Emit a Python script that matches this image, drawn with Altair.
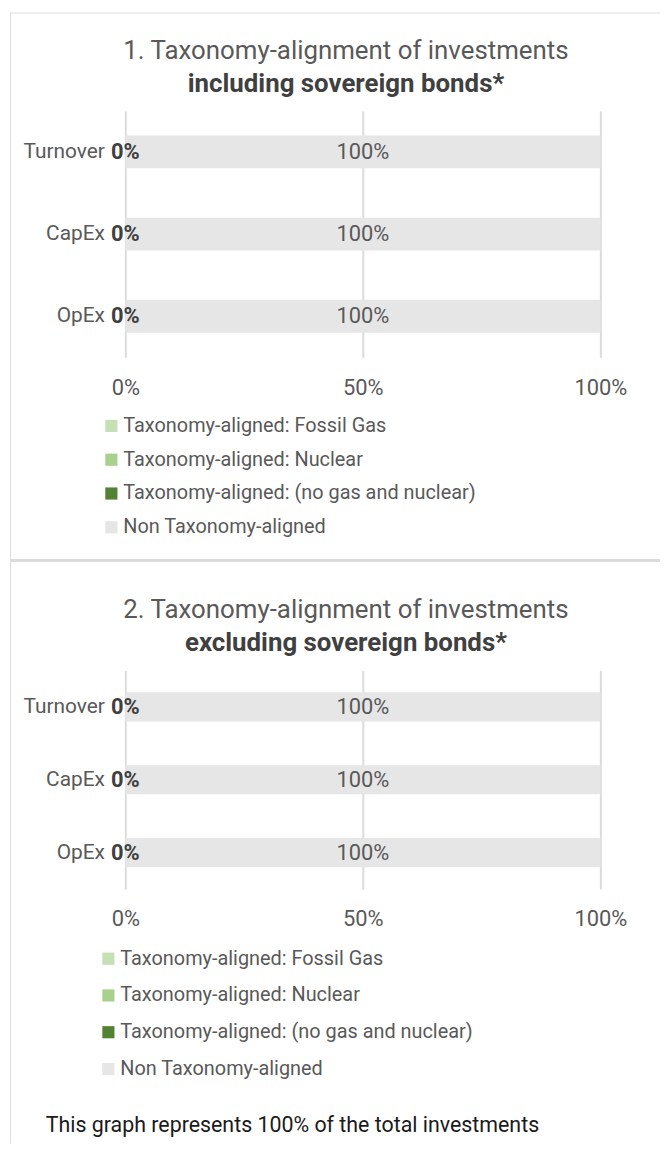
import altair as alt
import pandas as pd

# ---------------- data ----------------
rows = ["Turnover", "CapEx", "OpEx"]
series = [
    "Taxonomy-aligned: Fossil Gas",
    "Taxonomy-aligned: Nuclear",
    "Taxonomy-aligned: (no gas and nuclear)",
    "Non Taxonomy-aligned",
]
palette = ["#c5e0b4", "#a9d18e", "#548235", "#e6e6e6"]

incl_fossil_gas = [0, 0, 0]
incl_nuclear = [0, 0, 0]
incl_aligned_other = [0, 0, 0]
incl_non_aligned = [100, 100, 100]

excl_fossil_gas = [0, 0, 0]
excl_nuclear = [0, 0, 0]
excl_aligned_other = [0, 0, 0]
excl_non_aligned = [100, 100, 100]

x_ticks = [0, 50, 100]
title1 = ["1. Taxonomy-alignment of investments", "including sovereign bonds*"]
title2 = ["2. Taxonomy-alignment of investments", "excluding sovereign bonds*"]
footer = ["This graph represents 100% of the total investments"]

FONT = "Roboto"
GREY = "#595959"
DARK = "#404040"
W = 478


def tables(parts):
    seg, lab = [], []
    for i, r in enumerate(rows):
        start = 0
        for s, vals in zip(series, parts):
            v = vals[i]
            seg.append(dict(row=r, series=s, start=start, end=start + v))
            start += v
        aligned = sum(p[i] for p in parts[:3])
        non = parts[3][i]
        lab.append(dict(row=r, kind="aligned", mid=aligned / 2, text=f"{aligned:g}%"))
        lab.append(dict(row=r, kind="non", mid=aligned + non / 2, text=f"{non:g}%"))
    return pd.DataFrame(seg), pd.DataFrame(lab)


def panel(parts, title, height, legend_x, legend_y, row_pad, title_y, extra=()):
    seg, lab = tables(parts)
    y_axis = alt.Axis(domain=False, ticks=False, tickSize=0, labelPadding=21,
                      labelFont=FONT, labelFontSize=21, labelColor=GREY, grid=False)
    x_axis = alt.Axis(values=x_ticks, labelExpr="datum.value + '%'", domain=False,
                      ticks=False, tickSize=0, grid=True, gridColor="#dcdcdc",
                      gridWidth=2, labelPadding=20, labelFlush=False,
                      labelFont=FONT, labelFontSize=22, labelColor=GREY)
    bars = alt.Chart(seg).mark_bar().encode(
        y=alt.Y("row:N", sort=rows, title=None,
                scale=alt.Scale(paddingInner=0.6, paddingOuter=0.3), axis=y_axis),
        x=alt.X("start:Q", title=None, scale=alt.Scale(domain=[0, 100], nice=False),
                axis=x_axis),
        x2="end:Q",
        color=alt.Color(
            "series:N",
            scale=alt.Scale(domain=series, range=palette),
            legend=alt.Legend(
                title=None, orient="none", legendX=legend_x, legendY=legend_y,
                symbolType="square", symbolSize=150, symbolStrokeWidth=0,
                labelFont=FONT, labelFontSize=20, labelColor=GREY, labelOffset=2,
                labelLimit=600, rowPadding=row_pad, padding=0, direction="vertical",
            ),
        ),
    )
    t_aligned = alt.Chart(lab).transform_filter("datum.kind == 'aligned'").mark_text(
        font=FONT, fontSize=22, fontWeight="bold", color=DARK, align="center",
        baseline="middle",
    ).encode(
        y=alt.Y("row:N", sort=rows, title=None),
        x=alt.X("mid:Q", title=None),
        text="text:N",
    )
    t_non = alt.Chart(lab).transform_filter("datum.kind == 'non'").mark_text(
        font=FONT, fontSize=22, color=GREY, align="center", baseline="middle",
    ).encode(
        y=alt.Y("row:N", sort=rows, title=None),
        x=alt.X("mid:Q", title=None),
        text="text:N",
    )
    tdf = pd.DataFrame({"t": [title[0]], "s": [title[1]]})
    head1 = alt.Chart(tdf).mark_text(
        font=FONT, fontSize=26, color=GREY, align="center", baseline="alphabetic"
    ).encode(x=alt.value(222), y=alt.value(title_y), text="t:N")
    head2 = alt.Chart(tdf).mark_text(
        font=FONT, fontSize=26, fontWeight="bold", color=DARK, align="center",
        baseline="alphabetic",
    ).encode(x=alt.value(222), y=alt.value(title_y + 33), text="s:N")
    return alt.layer(bars, t_aligned, t_non, head1, head2, *extra).properties(
        width=W, height=height
    )


one = pd.DataFrame({"t": footer})
border_top = alt.Chart(one).mark_rule(color="#dedede", strokeWidth=1).encode(
    x=alt.value(-116), x2=alt.value(538), y=alt.value(-661.5))
border_left = alt.Chart(one).mark_rule(color="#dedede", strokeWidth=1).encode(
    x=alt.value(-115.5), y=alt.value(-662), y2=alt.value(476))
divider = alt.Chart(one).mark_rule(color="#dcdcdc", strokeWidth=3).encode(
    x=alt.value(-116), x2=alt.value(538), y=alt.value(-110.5))
foot = alt.Chart(one).mark_text(
    font=FONT, fontSize=21.5, color="#1a1a1a", align="left", baseline="alphabetic"
).encode(x=alt.value(-80), y=alt.value(464), text="t:N")

c1 = panel([incl_fossil_gas, incl_nuclear, incl_aligned_other, incl_non_aligned],
           title1, 248, -24, 307, 14, -52)
c2 = panel([excl_fossil_gas, excl_nuclear, excl_aligned_other, excl_non_aligned],
           title2, 220, -27, 280, 17, -53,
           extra=(border_top, border_left, divider, foot))

chart = (
    alt.vconcat(c1, c2, spacing=315, bounds="flush")
    .resolve_scale(color="independent")
    .properties(padding=0, background="white")
    .configure_view(strokeWidth=0)
)

chart.save("out.html", embed_options={"renderer": "svg", "actions": False})
